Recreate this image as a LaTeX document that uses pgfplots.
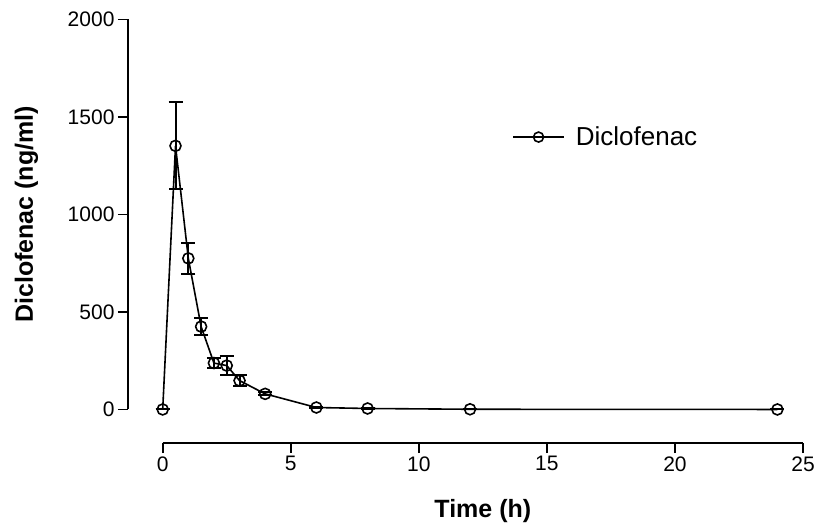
\documentclass[border=0pt]{standalone}
\usepackage{pgfplots}
\pgfplotsset{compat=1.18}
\usepackage{fontspec}
\setmainfont{Liberation Sans}
\pgfplotstableread{
t c e
0 0 0
0.5 1352 223
1 775 78
1.5 425 45
2 238 25
2.5 225 50
3 148 30
4 80 8
6 10 3
8 5 2
12 1 1
24 0 0
}\pkdata
\begin{document}
\begin{tikzpicture}
\begin{axis}[
  scale only axis, width=675pt, height=423.5pt,
  xmin=-1.355, xmax=25, ymin=-172, ymax=2000,
  axis line style={draw=none},
  xtick pos=bottom, ytick pos=left,
  tick align=outside, major tick length=10pt,
  every tick/.style={black, line width=1.8pt},
  xtick={0,5,...,25}, ytick={0,500,...,2000},
  /pgf/number format/assume math mode=true,
  /pgf/number format/1000 sep={},
  ticklabel style={font=\fontsize{21}{25}\selectfont},
  clip=false,
  legend style={at={(axis cs:13.64,1397)}, anchor=west, draw=none, fill=none,
    inner sep=0pt, font=\fontsize{26}{30}\selectfont,
    /tikz/every odd column/.append style={column sep=9pt}},
  legend image code/.code={\draw[mark repeat=2, mark phase=2, mark size=5pt]
    plot coordinates {(0pt,0pt) (25.5pt,0pt) (51pt,0pt)};},
]
\draw[line width=1.8pt] (axis cs:0,-172) -- (axis cs:25,-172);
\draw[line width=1.8pt] (axis cs:-1.355,0) -- (axis cs:-1.355,2000);
\addplot[black, line width=1.6pt, mark=o, mark size=5.5pt,
  mark options={fill=white, line width=1.6pt},
  error bars/.cd, y dir=both, y explicit,
  error bar style={line width=2pt},
  error mark options={rotate=90, mark size=7pt, line width=2pt}]
  table[x=t, y=c, y error=e] {\pkdata};
\addlegendentry{Diclofenac}
\node[rotate=90, anchor=base, font=\fontsize{25}{30}\selectfont\bfseries]
  at ([xshift=-95pt]axis cs:-1.355,1000) {Diclofenac (ng/ml)};
\node[anchor=base, font=\fontsize{25}{30}\selectfont\bfseries]
  at ([yshift=-74pt]axis cs:12.5,-172) {Time (h)};
\end{axis}
\pgfresetboundingbox
\path (current axis.south west) ++(-128pt,-84pt) rectangle ++(819pt,527pt);
\end{tikzpicture}
\end{document}
